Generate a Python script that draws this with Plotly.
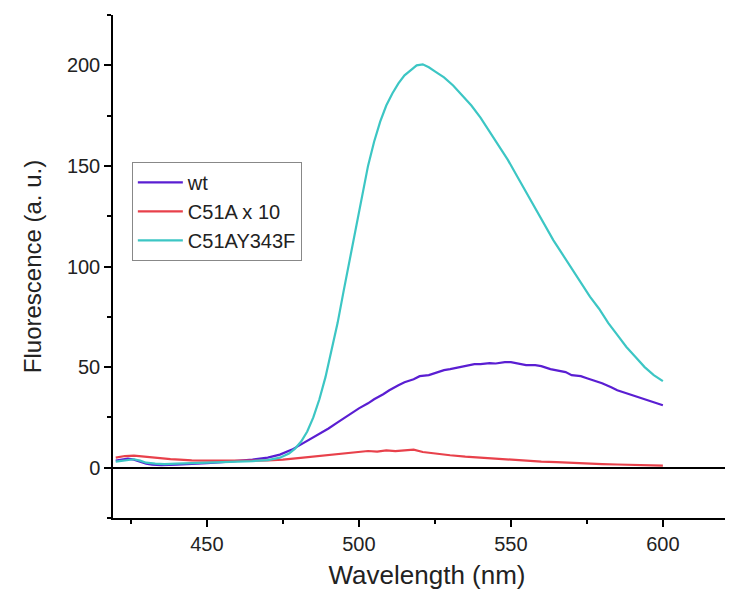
import plotly.graph_objects as go

# Wavelength (nm) and fluorescence (a. u.)
wl_wt = [420, 422, 424, 426, 428, 430, 432, 435, 440, 445, 450, 455, 460, 465, 470, 474, 478, 482, 485, 488, 490, 493, 495, 498, 500, 503, 505, 508, 510, 513, 515, 518, 520, 523, 525, 528, 530, 533, 535, 538, 540, 543, 545, 548, 550, 553, 555, 558, 560, 563, 565, 568, 570, 573, 575, 578, 580, 583, 585, 588, 590, 593, 595, 598, 600]
wt = [3.5, 4.0, 4.5, 4.0, 3.0, 2.0, 1.5, 1.3, 1.5, 1.8, 2.3, 2.8, 3.3, 4.0, 5.0, 6.5, 9.0, 12.5, 15.0, 17.5, 19.5, 22.5, 24.5, 27.5, 29.5, 32.0, 34.0, 36.5, 38.5, 41.0, 42.5, 44.0, 45.5, 46.0, 47.0, 48.5, 49.0, 50.0, 50.5, 51.5, 51.5, 52.0, 51.8, 52.5, 52.5, 51.5, 51.0, 51.0, 50.5, 49.0, 48.5, 47.5, 46.0, 45.5, 44.5, 43.0, 42.0, 40.0, 38.5, 37.0, 36.0, 34.5, 33.5, 32.0, 31.0]

wl_c51a = [420, 423, 426, 429, 432, 435, 438, 441, 445, 450, 455, 460, 465, 470, 475, 480, 485, 490, 495, 500, 503, 506, 509, 512, 515, 518, 521, 525, 530, 535, 540, 545, 550, 555, 560, 565, 570, 575, 580, 585, 590, 595, 600]
c51a = [5.0, 5.8, 6.0, 5.5, 5.0, 4.5, 4.3, 4.0, 3.6, 3.5, 3.4, 3.5, 3.5, 3.6, 4.0, 4.8, 5.6, 6.5, 7.2, 7.8, 8.3, 8.0, 8.6, 8.2, 8.5, 9.0, 7.8, 7.0, 6.2, 5.5, 5.0, 4.3, 3.8, 3.3, 3.0, 2.8, 2.4, 2.1, 1.8, 1.6, 1.4, 1.1, 1.0]

wl_y343f = [420, 422, 424, 426, 428, 430, 433, 436, 440, 445, 450, 455, 460, 465, 470, 474, 477, 479, 481, 483, 485, 487, 489, 491, 493, 495, 497, 499, 501, 503, 505, 507, 509, 511, 513, 515, 517, 519, 521, 523, 525, 528, 531, 534, 537, 540, 543, 546, 549, 552, 555, 558, 561, 564, 567, 570, 573, 576, 579, 582, 585, 588, 591, 594, 597, 600]
y343f = [3.0, 3.5, 4.0, 4.2, 3.5, 2.5, 2.0, 1.8, 2.0, 2.2, 2.5, 2.8, 3.0, 3.3, 3.8, 5.0, 7.0, 9.5, 13.0, 18.0, 25.0, 34.0, 45.0, 58.0, 72.0, 88.0, 104.0, 120.0, 136.0, 150.0, 162.0, 172.0, 180.0, 186.0, 191.0, 195.0, 197.5, 200.0, 200.5, 199.0, 197.0, 194.0, 190.0, 185.0, 180.0, 174.0, 167.0, 160.0, 153.0, 145.0, 137.0, 129.0, 121.0, 113.0, 106.0, 99.0, 92.0, 85.0, 79.0, 72.0, 66.0, 60.0, 55.0, 50.0, 46.0, 43.0]

names = ["wt", "C51A x 10", "C51AY343F"]
colors = ["#5a1ed2", "#e8414b", "#3cc6c4"]

fig = go.Figure()
for x, y, n, c in [(wl_wt, wt, names[0], colors[0]),
                   (wl_c51a, c51a, names[1], colors[1]),
                   (wl_y343f, y343f, names[2], colors[2])]:
    fig.add_trace(go.Scatter(x=x, y=y, mode="lines", name=n,
                             line=dict(color=c, width=2.2)))

font_family = "Liberation Sans, Arial, sans-serif"
# page body has an 8px margin; margins below compensate for it
fig.update_layout(
    width=733, height=595,
    margin=dict(l=105, r=0, t=7, b=85),
    paper_bgcolor="white", plot_bgcolor="white",
    font=dict(family=font_family, color="#222222", size=20),
    legend=dict(x=0.030, y=0.708, xanchor="left", yanchor="top",
                bordercolor="#888888", borderwidth=1, bgcolor="white",
                font=dict(size=20), itemwidth=45, tracegroupgap=0),
    xaxis=dict(range=[419.1, 625.7], showgrid=False, zeroline=False,
               showline=True, linecolor="black", linewidth=1.5,
               ticks="outside", ticklen=7, tickwidth=1.5, tickcolor="black",
               tick0=450, dtick=50,
               minor=dict(ticks="outside", ticklen=4, tickwidth=1.5,
                          tickcolor="black", dtick=25, tick0=425, showgrid=False),
               title=dict(text="Wavelength (nm)", font=dict(size=26), standoff=12)),
    yaxis=dict(range=[-25, 225], showgrid=False, zeroline=True,
               zerolinecolor="black", zerolinewidth=1.5,
               showline=True, linecolor="black", linewidth=1.5,
               ticks="outside", ticklen=7, tickwidth=1.5, tickcolor="black",
               tick0=0, dtick=50,
               minor=dict(ticks="outside", ticklen=4, tickwidth=1.5,
                          tickcolor="black", dtick=25, tick0=25, showgrid=False),
               title=dict(text="Fluorescence (a. u.)", font=dict(size=24), standoff=18)),
)

fig.write_html("out.html")
